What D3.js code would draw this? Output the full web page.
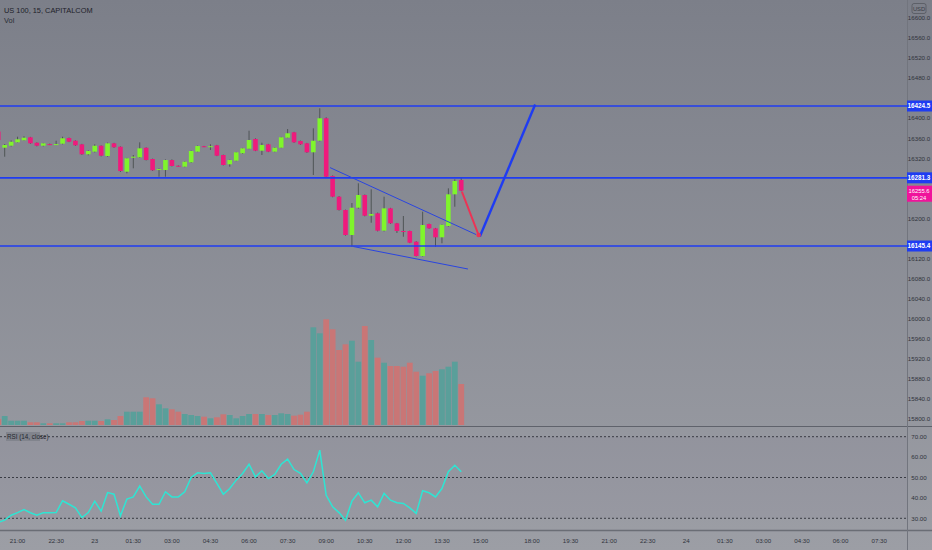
<!DOCTYPE html>
<html><head><meta charset="utf-8">
<script src="https://cdn.jsdelivr.net/npm/d3@7"></script>
<style>html,body{margin:0;padding:0;background:#8a8c95;overflow:hidden} svg{display:block;font-family:"Liberation Sans",Arial,sans-serif;}</style>
</head><body><svg id="c" width="932" height="550"></svg>
<script>
// ---------- DATA (bar index -1 .. 71, 15-minute bars) ----------
const firstIndex = -1;
const opens = [16373.6,16341.3,16345.3,16352.1,16356.1,16362.1,16351.3,16345.3,16348.5,16347.5,16349.3,16360.7,16355.3,16348.1,16328.2,16333.4,16345.3,16324.8,16350.1,16343.3,16293.5,16322.4,16322.2,16341.3,16318.8,16297.8,16296.9,16316.8,16305.4,16303.5,16312.2,16333.4,16344.3,16343.3,16346.1,16326.8,16308.3,16315.4,16330.2,16339.3,16358.7,16335.4,16348.1,16333.4,16341.3,16361.3,16372.1,16354.7,16350.1,16332.2,16355.3,16400.0,16284.9,16243.7,16217.1,16167.3,16221.7,16247.1,16205.8,16210.6,16175.9,16220.5,16190.6,16175.3,16175.3,16154.0,16125.4,16189.2,16180.6,16162.7,16185.2,16248.4,16277.0];
const highs = [16376.6,16348.7,16355.7,16363.3,16364.1,16363.0,16352.0,16351.0,16349.5,16355.3,16363.3,16361.5,16356.0,16349.0,16336.0,16348.1,16346.0,16351.5,16351.0,16344.0,16321.0,16326.8,16352.1,16342.0,16319.5,16300.0,16318.0,16318.0,16306.0,16314.0,16335.5,16345.5,16345.0,16348.1,16347.0,16327.5,16317.5,16333.0,16341.0,16375.2,16360.0,16351.3,16349.0,16342.0,16363.0,16378.6,16373.0,16355.5,16351.0,16380.0,16419.9,16402.0,16286.0,16245.0,16218.0,16231.1,16270.4,16248.0,16258.4,16212.0,16243.7,16221.5,16191.5,16205.2,16176.0,16155.0,16213.8,16190.0,16181.5,16188.5,16260.4,16278.3,16282.3];
const lows = [16354.7,16323.4,16343.7,16351.7,16355.7,16349.0,16344.0,16344.0,16346.5,16346.7,16348.0,16352.5,16345.0,16327.0,16326.2,16332.0,16324.0,16323.5,16341.0,16293.0,16290.3,16300.3,16321.0,16316.0,16295.0,16283.5,16283.5,16304.0,16303.5,16302.5,16311.0,16332.5,16342.5,16336.8,16324.5,16306.0,16303.5,16314.5,16329.0,16338.5,16334.5,16326.8,16332.5,16332.5,16340.5,16360.5,16351.0,16347.0,16331.0,16286.9,16354.0,16282.0,16242.5,16216.0,16166.0,16144.0,16220.0,16204.5,16191.8,16174.5,16174.5,16189.5,16171.3,16163.9,16151.0,16124.5,16124.5,16179.5,16144.0,16150.8,16184.0,16223.7,16254.5];
const closes = [16356.7,16346.7,16353.3,16358.1,16361.3,16350.1,16345.3,16350.1,16347.5,16348.5,16360.1,16353.3,16346.1,16328.2,16334.8,16345.3,16325.4,16350.1,16342.2,16294.9,16320.2,16323.4,16340.1,16316.8,16296.3,16298.8,16316.8,16304.9,16304.4,16313.4,16334.8,16344.7,16343.3,16344.3,16325.4,16306.9,16316.8,16332.2,16340.1,16356.7,16335.4,16346.7,16333.4,16341.3,16362.1,16370.1,16352.1,16348.1,16332.2,16355.3,16400.0,16283.5,16243.7,16217.1,16167.3,16221.7,16247.1,16205.8,16209.2,16175.9,16220.5,16190.6,16175.3,16174.9,16152.0,16125.4,16187.2,16180.6,16162.7,16187.8,16248.4,16275.0,16255.6];
const volumes = [600,900,430,430,430,270,270,170,170,170,170,270,270,400,430,430,400,570,500,900,1330,1330,1330,2770,2670,2070,1670,1570,1330,1100,1000,900,830,670,770,1070,1000,670,900,1100,1100,1100,1000,1000,1170,1100,930,1030,1330,9770,9170,10570,9570,7500,8070,8430,6330,9900,8500,6730,6230,5900,5900,5830,6230,5330,4930,5170,5400,5570,5830,6330,4100];
const rsiValues = [28.0,29.1,31.5,32.8,34.3,32.7,31.5,32.7,32.7,32.8,38.6,36.9,35.1,30.4,32.8,38.4,33.5,42.6,41.8,31.2,39.4,40.5,45.8,40.5,36.9,36.9,43.0,40.5,40.5,43.0,50.0,52.3,52.0,52.3,47.1,41.8,44.6,48.7,52.0,56.5,50.3,53.3,49.5,51.5,56.5,59.0,53.9,52.0,47.4,52.8,63.4,41.3,35.6,32.8,29.1,38.4,42.5,37.6,38.9,35.6,42.2,38.9,37.6,37.3,35.1,32.4,43.5,42.5,40.5,44.6,52.8,56.0,52.8];

// time-axis labels (bar index, label)
const timeTickIndex = [2,8,14,20,26,32,38,44,50,56,62,68,74,82,88,94,100,106,112,118,124,130,136];
const timeTickLabels = ["21:00","22:30","23","01:30","03:00","04:30","06:00","07:30","09:00","10:30","12:00","13:30","15:00","18:00","19:30","21:00","22:30","24","01:30","03:00","04:30","06:00","07:30"];
const priceTicks = d3.range(15800, 16601, 40);
const rsiTicks = [30,40,50,60,70];
const rsiBands = [70,50,30];

// horizontal levels and drawings (bar index, price)
const levels = [16424.5, 16281.3, 16145.4];
const channelUpper = [[50.6,16301.7],[73.3,16168.3]];
const channelLower = [[54.2,16144.4],[72.05,16099.5]];
const redPath = [[71.1,16254.0],[73.7,16167.3]];
const bluePath = [[73.9,16164.3],[82.5,16427.5]];
const lastPrice = 16255.6, countdown = "05:24";

// ---------- LAYOUT ----------
const W=932,H=550, plotR=907, priceBottom=426, rsiTop=427, rsiBottom=530;
const svg=d3.select("#c");
const defs=svg.append("defs");
const g=defs.append("linearGradient").attr("id","bg").attr("x1",0).attr("y1",0).attr("x2",0).attr("y2",1);
g.append("stop").attr("offset","0%").attr("stop-color","#7c7f89");
g.append("stop").attr("offset","100%").attr("stop-color","#9c9ea5");
svg.append("rect").attr("width",W).attr("height",H).attr("fill","url(#bg)");
defs.append("clipPath").attr("id","cp").append("rect").attr("x",0).attr("y",0).attr("width",plotR).attr("height",priceBottom);
defs.append("clipPath").attr("id","cr").append("rect").attr("x",0).attr("y",rsiTop).attr("width",plotR).attr("height",rsiBottom-rsiTop);

const x=d3.scaleLinear().domain([0,1]).range([4.7,4.7+6.43]);
const y=d3.scaleLinear().domain([16424.5,16145.4]).range([106,246]);
const yv=d3.scaleLinear().domain([0,10000]).range([425,325]);
const yr=d3.scaleLinear().domain([70,30]).range([436.7,518.3]);

const bars=opens.map((o,k)=>({i:k+firstIndex,o,h:highs[k],l:lows[k],c:closes[k],v:volumes[k],r:rsiValues[k]}));

// ---------- VOLUME ----------
const pv=svg.append("g").attr("clip-path","url(#cp)");
pv.selectAll("rect").data(bars).join("rect")
 .attr("x",d=>x(d.i)-2.9).attr("width",5.8)
 .attr("y",d=>yv(d.v)).attr("height",d=>yv(0)-yv(d.v))
 .attr("fill",d=>d.c>=d.o?"#5a9f9a":"#c97676");

// ---------- CANDLES ----------
const pc=svg.append("g").attr("clip-path","url(#cp)");
pc.selectAll("line").data(bars).join("line")
 .attr("x1",d=>x(d.i)).attr("x2",d=>x(d.i)).attr("y1",d=>y(d.h)).attr("y2",d=>y(d.l))
 .attr("stroke","#4f5556").attr("stroke-width",1);
pc.selectAll("rect").data(bars).join("rect")
 .attr("x",d=>x(d.i)-2.3).attr("width",4.6)
 .attr("y",d=>y(Math.max(d.o,d.c))).attr("height",d=>Math.max(1,Math.abs(y(d.o)-y(d.c))))
 .attr("fill",d=>d.c>=d.o?"#7ff52c":"#ef1a7c");

// ---------- DRAWINGS ----------
const pd=svg.append("g").attr("clip-path","url(#cp)");
pd.selectAll("line.lvl").data(levels).join("line").attr("class","lvl")
 .attr("x1",0).attr("x2",plotR).attr("y1",d=>y(d)).attr("y2",d=>y(d))
 .attr("stroke","#1f3cf2").attr("stroke-width",1.6);
const ln=d3.line().x(d=>x(d[0])).y(d=>y(d[1]));
pd.append("path").attr("d",ln(channelUpper)).attr("stroke","#2a45e0").attr("stroke-width",1).attr("fill","none");
pd.append("path").attr("d",ln(channelLower)).attr("stroke","#2a45e0").attr("stroke-width",1).attr("fill","none");
pd.append("path").attr("d",ln(redPath)).attr("stroke","#ec3355").attr("stroke-width",2).attr("fill","none");
pd.append("path").attr("d",ln(bluePath)).attr("stroke","#1f3cf2").attr("stroke-width",2.4).attr("fill","none");
pd.append("circle").attr("cx",x(redPath[1][0])).attr("cy",y(redPath[1][1])).attr("r",2.3).attr("fill","#ec3355");

// ---------- PANE SEPARATORS ----------
svg.append("line").attr("x1",0).attr("x2",W).attr("y1",426.5).attr("y2",426.5).attr("stroke","#5f626b").attr("stroke-width",1);
svg.append("line").attr("x1",0).attr("x2",W).attr("y1",530.5).attr("y2",530.5).attr("stroke","#6a6d75").attr("stroke-width",1.5);
svg.append("line").attr("x1",plotR+0.5).attr("x2",plotR+0.5).attr("y1",0).attr("y2",H).attr("stroke","#72757e").attr("stroke-width",1);

// ---------- RSI ----------
const pr=svg.append("g").attr("clip-path","url(#cr)");
pr.append("rect").attr("x",0).attr("width",plotR).attr("y",yr(70)).attr("height",yr(30)-yr(70)).attr("fill","rgba(90,70,140,0.05)");
pr.selectAll("line.band").data(rsiBands).join("line").attr("class","band")
 .attr("x1",0).attr("x2",plotR).attr("y1",d=>yr(d)).attr("y2",d=>yr(d))
 .attr("stroke","#3a3c44").attr("stroke-width",1).attr("stroke-dasharray","2,2");
pr.append("path").attr("d",d3.line().x(d=>x(d.i)).y(d=>yr(d.r))(bars))
 .attr("stroke","#2ee5d3").attr("stroke-width",1.5).attr("fill","none");
const rl=svg.append("g");
rl.append("rect").attr("x",6).attr("y",432).attr("width",34).attr("height",9).attr("fill","#81848d");
rl.append("text").attr("x",7).attr("y",439.3).attr("font-size",6.3).attr("fill","#25282f").text("RSI (14, close)");

// ---------- AXES ----------
// boxes on the price scale (level labels + last price) hide the ticks beneath them
const boxes = levels.map(v=>[y(v)-5.5,y(v)+5.5]).concat([[y(lastPrice)-5,y(lastPrice)+11]]);
const visibleTicks = priceTicks.filter(p=>!boxes.some(b=>y(p)+2.5>b[0] && y(p)-2.5<b[1]));
const ax=svg.append("g").attr("font-size",6.2).attr("fill","#30333c").attr("text-anchor","middle");
ax.selectAll("text.p").data(visibleTicks).join("text").attr("class","p")
 .attr("x",919).attr("y",d=>y(d)+2.2).text(d=>d.toFixed(1));
ax.selectAll("text.r").data(rsiTicks).join("text").attr("class","r")
 .attr("x",919).attr("y",d=>yr(d)+2.2).text(d=>d.toFixed(2));
ax.selectAll("text.t").data(timeTickIndex).join("text").attr("class","t")
 .attr("x",d=>x(d)).attr("y",543).text((d,k)=>timeTickLabels[k]);

// USD badge
svg.append("rect").attr("x",912).attr("y",3.5).attr("width",14).attr("height",10).attr("rx",2).attr("fill","none").attr("stroke","#55585f").attr("stroke-width",0.8);
svg.append("text").attr("x",919).attr("y",10.6).attr("font-size",5.8).attr("fill","#3a3d45").attr("text-anchor","middle").text("USD");

// level price boxes
const lb=svg.append("g");
levels.forEach(v=>{
  lb.append("rect").attr("x",plotR).attr("y",y(v)-5.5).attr("width",W-plotR).attr("height",11).attr("fill","#1f3cf2");
  lb.append("text").attr("x",919).attr("y",y(v)+2.2).attr("font-size",6.3).attr("font-weight","bold").attr("fill","#ffffff").attr("text-anchor","middle").text(v.toFixed(1));
});
lb.append("rect").attr("x",plotR).attr("y",y(lastPrice)-5).attr("width",W-plotR).attr("height",16).attr("fill","#f0139b");
lb.append("text").attr("x",919).attr("y",y(lastPrice)+2).attr("font-size",5.8).attr("fill","#ffffff").attr("text-anchor","middle").text(lastPrice.toFixed(1));
lb.append("text").attr("x",919).attr("y",y(lastPrice)+9.3).attr("font-size",5.8).attr("fill","#ffffff").attr("text-anchor","middle").text(countdown);

// titles
svg.append("text").attr("x",4).attr("y",12.5).attr("font-size",7.4).attr("fill","#1e2129").text("US 100, 15, CAPITALCOM");
svg.append("text").attr("x",4).attr("y",23).attr("font-size",7.4).attr("fill","#2a2d35").text("Vol");
</script></body></html>
